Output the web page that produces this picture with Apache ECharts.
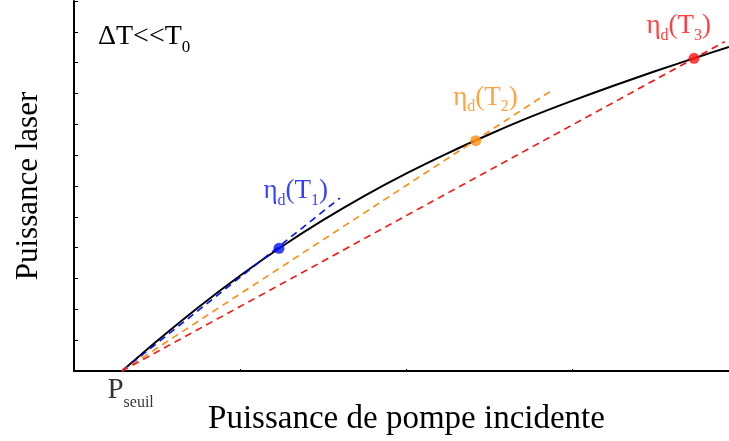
<!DOCTYPE html>
<html><head><meta charset="utf-8">
<script src="https://cdn.jsdelivr.net/npm/echarts@6/dist/echarts.min.js"></script>
<style>html,body{margin:0;padding:0;background:#fff}#c{width:729px;height:441px}</style>
</head><body><div id="c"></div>
<script>
// Black laser curve (pump power vs laser power, arbitrary units)
const curveX = [0.289, 0.5, 0.75, 1.0, 1.25, 1.5, 1.75, 2.0, 2.25, 2.5, 2.75, 3.0, 3.25, 3.5, 3.75, 3.946];
const curveY = [0, 0.975, 2.07, 3.09, 4.03, 4.89, 5.68, 6.40, 7.06, 7.67, 8.24, 8.76, 9.25, 9.72, 10.17, 10.51];
// Threshold
const thresholdX = 0.289;
// Points T1, T2, T3
const pointNames = ['1', '2', '3'];
const pointX = [1.235, 2.42, 3.735];
const pointY = [3.98, 7.47, 10.14];
// Dashed slope lines end points
const dashEndX = [1.602, 2.867, 3.92];
const dashEndY = [5.61, 9.06, 10.68];
const colors = ['#0010ff', '#ff8c10', '#ff1010'];
const labelOffsets = [[-10, -65], [-17, -51], [-42, -40]];

const serif = '"Liberation Serif", "DejaVu Serif", serif';

const series = [{
  type: 'line',
  data: curveX.map((x, i) => [x, curveY[i]]),
  smooth: 0.2,
  showSymbol: false,
  lineStyle: { color: '#000', width: 2 },
  z: 2
}];
for (let i = 0; i < 3; i++) {
  series.push({
    type: 'line',
    data: [[thresholdX, 0], [dashEndX[i], dashEndY[i]]],
    showSymbol: false,
    lineStyle: { color: colors[i], width: 1.6, type: [7, 5] },
    z: 3
  });
  series.push({
    type: 'scatter',
    data: [[pointX[i], pointY[i]]],
    symbolSize: 11,
    itemStyle: { color: colors[i] },
    label: {
      show: true,
      position: labelOffsets[i],
      align: 'left',
      verticalAlign: 'top',
      formatter: '{a|η}{s|d}{a|(T}{s|' + pointNames[i] + '}{a|)}',
      rich: {
        a: { fontFamily: serif, fontSize: 27, color: colors[i], lineHeight: 30, verticalAlign: 'top' },
        s: { fontFamily: serif, fontSize: 16, color: colors[i], lineHeight: 30, padding: [15, 0, 0, 0], verticalAlign: 'top' }
      }
    },
    z: 4
  });
}
series.push({
  type: 'scatter',
  data: [[thresholdX, 0]],
  symbolSize: 1,
  itemStyle: { color: 'transparent' },
  label: {
    show: true,
    position: [-14, 5],
    align: 'left',
    verticalAlign: 'top',
    formatter: '{p|P}{s|seuil}',
    rich: {
      p: { fontFamily: serif, fontSize: 29, color: '#000', lineHeight: 32, verticalAlign: 'top' },
      s: { fontFamily: serif, fontSize: 16, color: '#000', lineHeight: 32, padding: [19, 0, 0, 0], verticalAlign: 'top' }
    }
  },
  z: 5
});

const chart = echarts.init(document.getElementById('c'));
chart.setOption({
  animation: false,
  title: {
    left: 93, top: 18,
    text: '{a|ΔT<<T}{s|0}',
    textStyle: {
      fontWeight: 'normal',
      rich: {
        a: { fontFamily: serif, fontSize: 28, fontWeight: 'normal', color: '#000', lineHeight: 32, verticalAlign: 'top' },
        s: { fontFamily: serif, fontSize: 17, fontWeight: 'normal', color: '#000', lineHeight: 32, padding: [16, 0, 0, 0], verticalAlign: 'top' }
      }
    }
  },
  grid: { left: 74, right: 0, top: 1, bottom: 69 },
  xAxis: [{
    type: 'value', min: 0, max: 3.946, interval: 1,
    name: 'Puissance de pompe incidente', nameLocation: 'middle', nameGap: 32,
    nameTextStyle: { fontFamily: serif, fontSize: 33, color: '#000', padding: [0, 0, 0, 10] },
    axisLine: { show: true, onZero: false, lineStyle: { color: '#000', width: 2 } },
    axisTick: { show: true, inside: true, length: 2, lineStyle: { color: '#000' } },
    axisLabel: { show: false }, splitLine: { show: false }
  }, {
    type: 'value', position: 'top', min: 0, max: 3.946,
    axisLine: { show: true, lineStyle: { color: '#000', width: 2 } },
    axisTick: { show: false }, axisLabel: { show: false }, splitLine: { show: false }
  }],
  yAxis: {
    type: 'value', min: 0, max: 12, interval: 1,
    name: 'Puissance laser', nameLocation: 'middle', nameGap: 30, nameRotate: 90,
    nameTextStyle: { fontFamily: serif, fontSize: 31, color: '#000' },
    axisLine: { show: true, onZero: false, lineStyle: { color: '#000', width: 2 } },
    axisTick: { show: true, inside: true, length: 4, lineStyle: { color: '#000' } },
    axisLabel: { show: false }, splitLine: { show: false }
  },
  series: series
});
</script></body></html>
